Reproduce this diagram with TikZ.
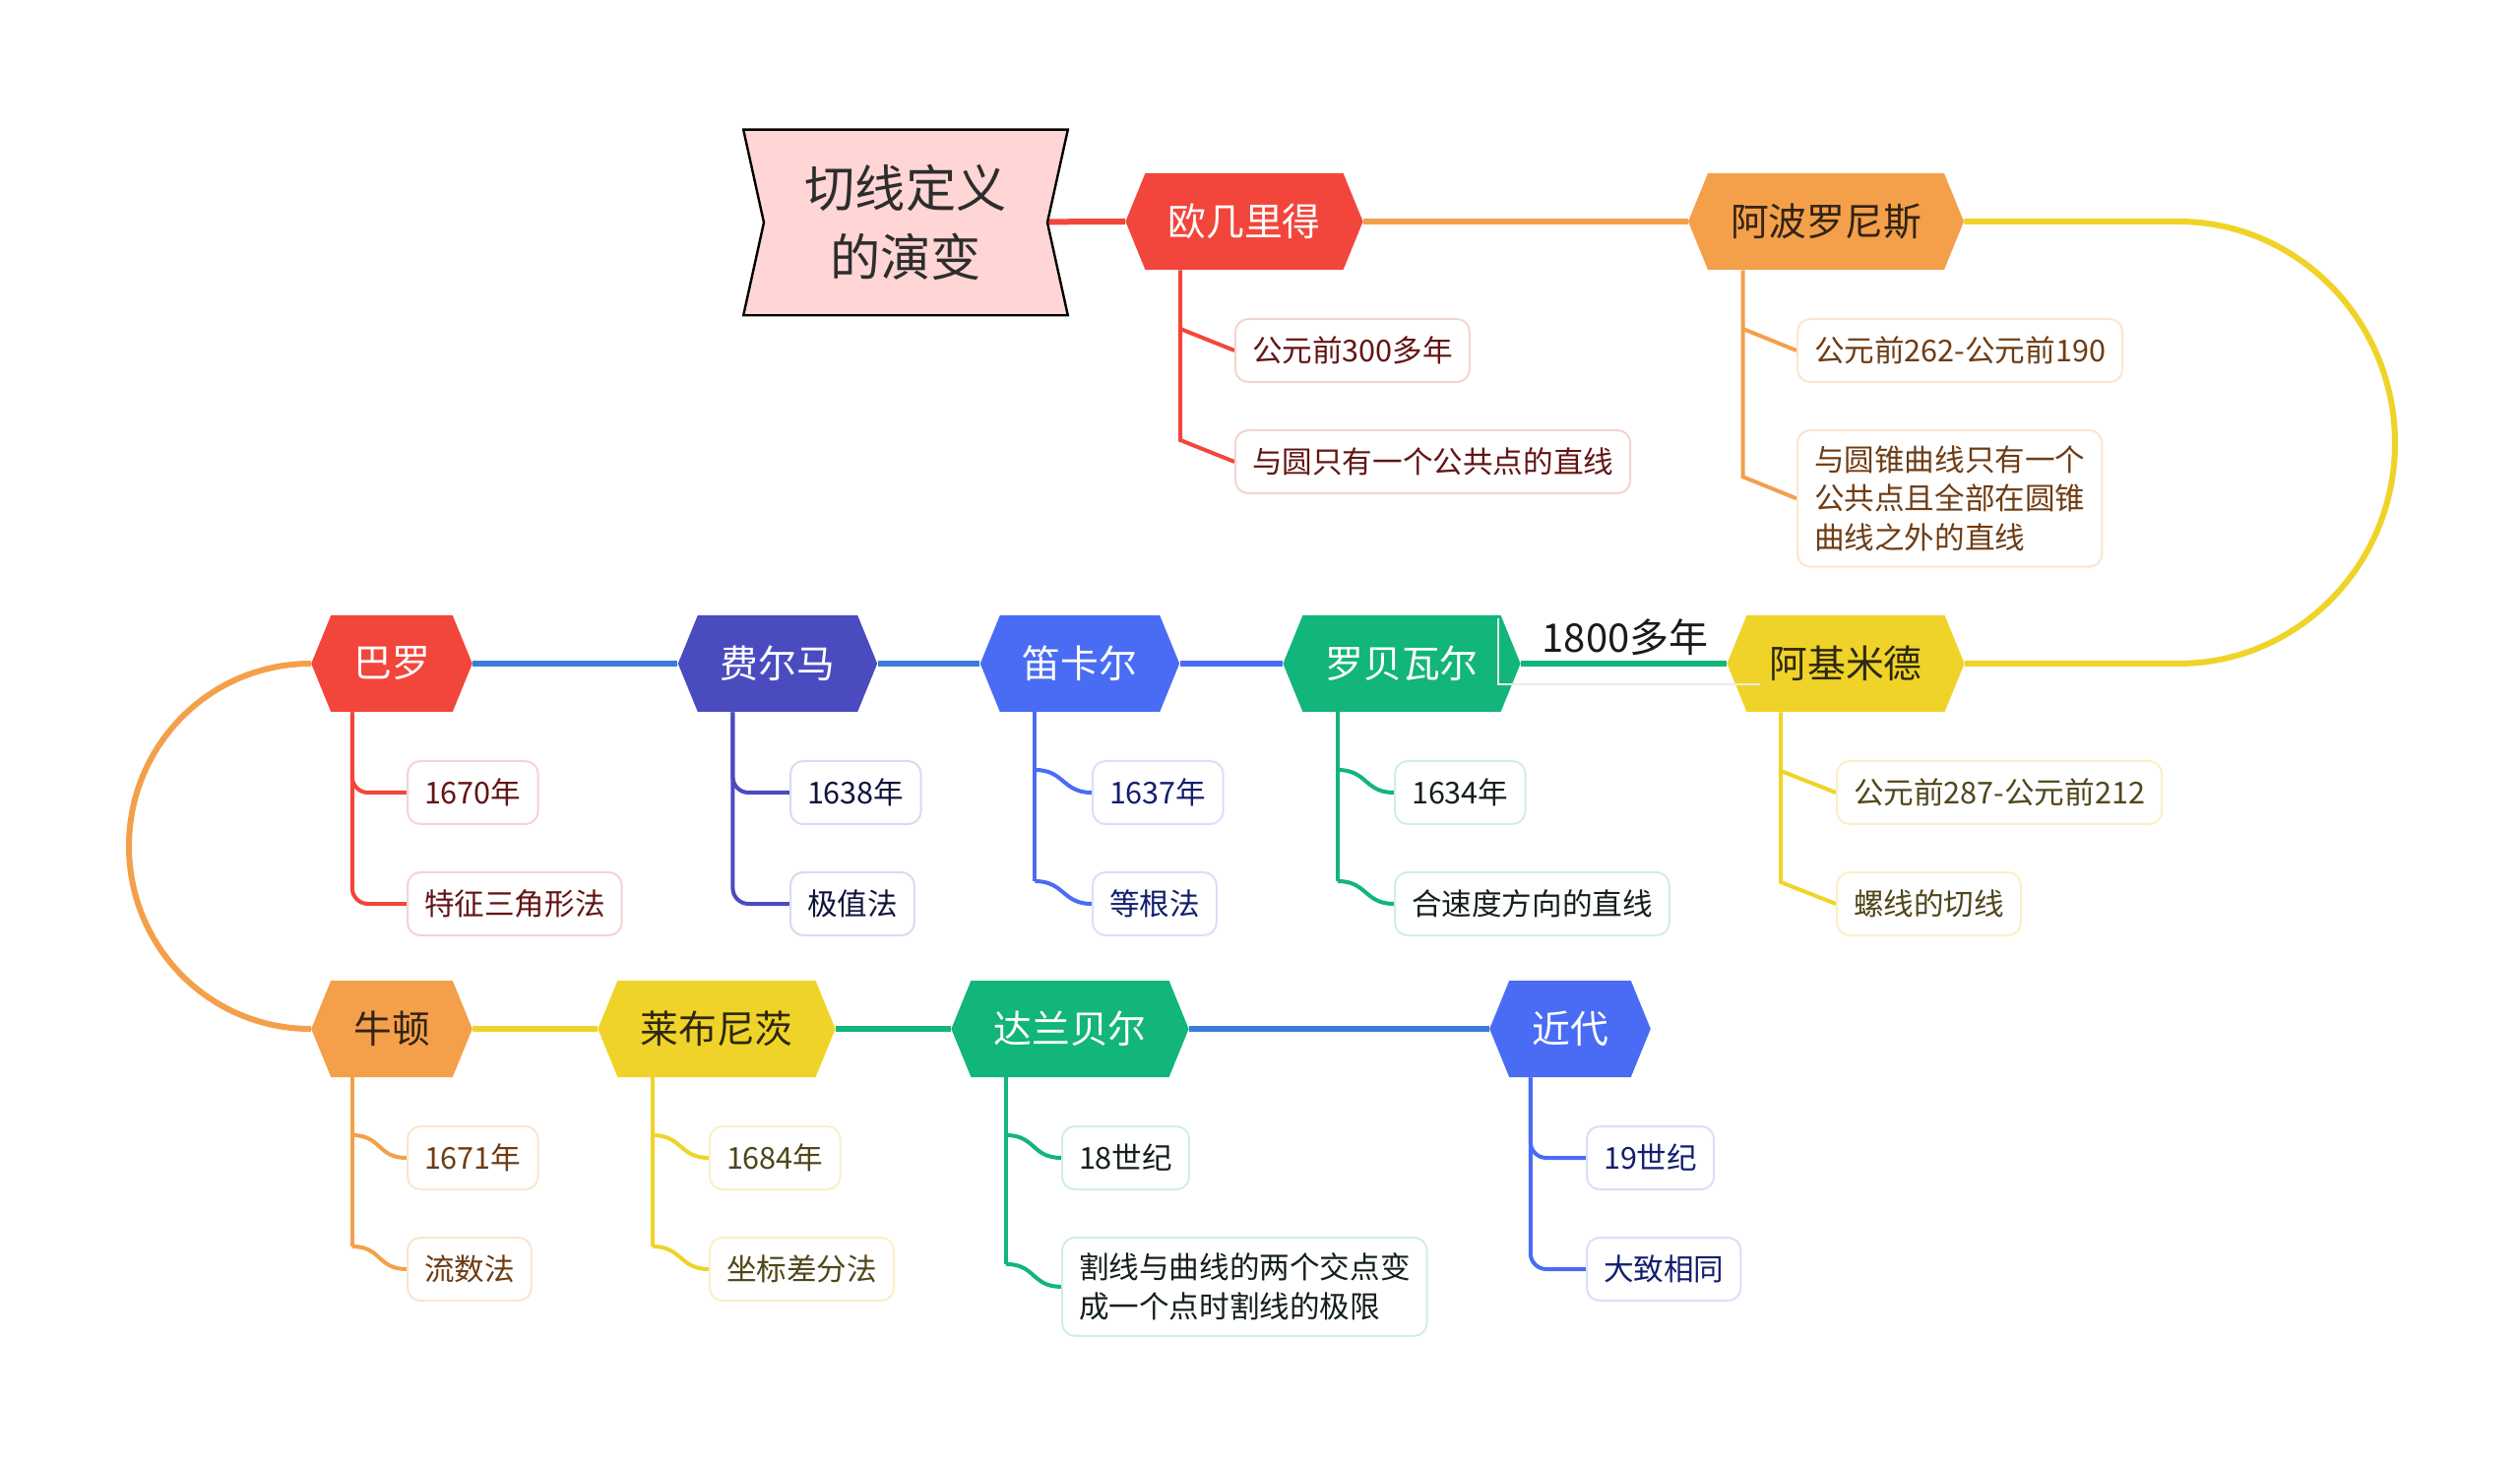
\documentclass[tikz,border=0pt]{standalone}
\usepackage{fontspec}
\setmainfont{Noto Sans CJK SC}
\usetikzlibrary{calc}
\pgfdeclarelayer{bg}
\pgfsetlayers{bg,main}
\definecolor{cred}{HTML}{F2463C}
\definecolor{corange}{HTML}{F4A04A}
\definecolor{cyellow}{HTML}{F0D328}
\definecolor{cgreen}{HTML}{12B57A}
\definecolor{cblue}{HTML}{4A6CF5}
\definecolor{cindigo}{HTML}{4A4BBF}
\definecolor{clink}{HTML}{3A7CDB}
\definecolor{rootfill}{HTML}{FFD5D5}
\definecolor{troot}{HTML}{2D2D2D}
\definecolor{tdorange}{HTML}{322314}
\definecolor{tdyellow}{HTML}{2D280F}
\definecolor{tred}{HTML}{641414}
\definecolor{torange}{HTML}{6E3C14}
\definecolor{tyellow}{HTML}{50461A}
\definecolor{tgreen}{HTML}{142019}
\definecolor{tblue}{HTML}{141E6E}
\definecolor{tindigo}{HTML}{0F143C}
\definecolor{bred}{HTML}{F6D3D0}
\definecolor{borange}{HTML}{FBE5CF}
\definecolor{byellow}{HTML}{FAF0C6}
\definecolor{bgreen}{HTML}{CFEFE3}
\definecolor{bblue}{HTML}{D9DFFB}
\definecolor{bindigo}{HTML}{DADAF0}
\definecolor{tlabel}{HTML}{1A1A1A}
\tikzset{
  hexn/.style={minimum height=49pt, inner xsep=21.5pt, inner ysep=0pt,
    font=\fontsize{19.4pt}{23pt}\selectfont,
    path picture={\fill[#1]
      (path picture bounding box.west)
      -- ([xshift=10pt]path picture bounding box.north west)
      -- ([xshift=-10pt]path picture bounding box.north east)
      -- (path picture bounding box.east)
      -- ([xshift=-10pt]path picture bounding box.south east)
      -- ([xshift=10pt]path picture bounding box.south west) -- cycle;}},
  rootn/.style={minimum width=166pt, minimum height=95.5pt, inner sep=0pt, align=center, text=troot,
    font=\fontsize{25.6pt}{35pt}\selectfont,
    path picture={\draw[fill=rootfill, line width=1.2pt]
      ([shift={(0.6pt,-0.6pt)}]path picture bounding box.north west)
      -- ([shift={(-0.6pt,-0.6pt)}]path picture bounding box.north east)
      -- ([xshift=-11pt]path picture bounding box.east)
      -- ([shift={(-0.6pt,0.6pt)}]path picture bounding box.south east)
      -- ([shift={(0.6pt,0.6pt)}]path picture bounding box.south west)
      -- ([xshift=11pt]path picture bounding box.west) -- cycle;}},
  leaf/.style 2 args={draw=#1, fill=white, line width=1pt, rounded corners=6.5pt, text=#2,
    font=\fontsize{15.3pt}{19.6pt}\selectfont, inner xsep=8.5pt, inner ysep=8pt,
    minimum height=32pt, align=left, anchor=north west},
  mainlink/.style={line width=3pt, draw=#1},
  sublink/.style={line width=2pt, draw=#1},
  faintline/.style={draw=black!8, line width=1pt},
  lbltext/.style={font=\fontsize{20pt}{24pt}\selectfont, text=tlabel, inner sep=0pt},
}
\begin{document}
\begin{tikzpicture}[x=0.5pt,y=-0.5pt]
\useasboundingbox (0,0) rectangle (2560,1491);

% ---------- main nodes ----------
\node[rootn] (root) at (920,226) {切线定义\\的演变};
\node[hexn=cred, text=white] (E) at (1264,225) {欧几里得};
\node[hexn=corange, text=tdorange] (A) at (1855,225) {阿波罗尼斯};
\node[hexn=cyellow, text=tdyellow] (M) at (1875,674) {阿基米德};
\node[hexn=cgreen, text=white] (R) at (1424,674) {罗贝瓦尔};
\node[hexn=cblue, text=white] (D) at (1097,674) {笛卡尔};
\node[hexn=cindigo, text=white] (F) at (790,674) {费尔马};
\node[hexn=cred, text=white] (B) at (398,674) {巴罗};
\node[hexn=corange, text=tdorange] (N) at (398,1045) {牛顿};
\node[hexn=cyellow, text=tdyellow] (L) at (728,1045) {莱布尼茨};
\node[hexn=cgreen, text=white] (Al) at (1087,1045) {达兰贝尔};
\node[hexn=cblue, text=white] (J) at (1595,1045) {近代};

% ---------- leaves ----------
\node[leaf={bred}{tred}] (e1) at (1254,323) {公元前300多年};
\node[leaf={bred}{tred}] (e2) at (1254,436) {与圆只有一个公共点的直线};
\node[leaf={borange}{torange}] (a1) at (1825,323) {公元前262-公元前190};
\node[leaf={borange}{torange}] (a2) at (1825,436) {与圆锥曲线只有一个\\公共点且全部在圆锥\\曲线之外的直线};
\node[leaf={byellow}{tyellow}] (m1) at (1865,772) {公元前287-公元前212};
\node[leaf={byellow}{tyellow}] (m2) at (1865,885) {螺线的切线};
\node[leaf={bgreen}{tgreen}] (r1) at (1416,772) {1634年};
\node[leaf={bgreen}{tgreen}] (r2) at (1416,885) {合速度方向的直线};
\node[leaf={bblue}{tblue}] (d1) at (1109,772) {1637年};
\node[leaf={bblue}{tblue}] (d2) at (1109,885) {等根法};
\node[leaf={bindigo}{tindigo}] (f1) at (802,772) {1638年};
\node[leaf={bindigo}{tindigo}] (f2) at (802,885) {极值法};
\node[leaf={bred}{tred}] (b1) at (413,772) {1670年};
\node[leaf={bred}{tred}] (b2) at (413,885) {特征三角形法};
\node[leaf={borange}{torange}] (n1) at (413,1143) {1671年};
\node[leaf={borange}{torange}] (n2) at (413,1256) {流数法};
\node[leaf={byellow}{tyellow}] (l1) at (720,1143) {1684年};
\node[leaf={byellow}{tyellow}] (l2) at (720,1256) {坐标差分法};
\node[leaf={bgreen}{tgreen}] (t1) at (1078,1143) {18世纪};
\node[leaf={bgreen}{tgreen}] (t2) at (1078,1256) {割线与曲线的两个交点变\\成一个点时割线的极限};
\node[leaf={bblue}{tblue}] (j1) at (1611,1143) {19世纪};
\node[leaf={bblue}{tblue}] (j2) at (1611,1256) {大致相同};

% ---------- label on the green link ----------
\node[lbltext] (lbl) at (1651,647) {1800多年};
\draw[faintline] ($(lbl.center)+(-129,-19)$) -- ($(lbl.center)+(-129,48)$) -- ($(lbl.center)+(137,48)$);

% ---------- connectors (behind) ----------
\begin{pgfonlayer}{bg}
\fill[white] (0,0) rectangle (2560,1491);
\draw[mainlink=cred] (root.center) -- (E.west);
\draw[mainlink=corange] (E.east) -- (A.west);
\draw[mainlink=cyellow] (A.east) -- (2213,225) .. controls (2334,225) and (2433,326) .. (2433,450)
   .. controls (2433,574) and (2334,674) .. (2213,674) -- (M.east);
\draw[mainlink=cgreen] (M.west) -- (R.east);
\draw[mainlink=cblue] (R.west) -- (D.east);
\draw[mainlink=clink] (D.west) -- (F.east);
\draw[mainlink=clink] (F.west) -- (B.east);
\draw[mainlink=corange] (B.west) .. controls (213,674) and (131,757) .. (131,859.5)
   .. controls (131,962) and (213,1045) .. (N.west);
\draw[mainlink=cyellow] (N.east) -- (L.west);
\draw[mainlink=cgreen] (L.east) -- (Al.west);
\draw[mainlink=clink] (Al.east) -- (J.west);

% trunks
\coordinate (Et) at ($(E.south west)+(56,0)$);
\coordinate (At) at ($(A.south west)+(56,0)$);
\coordinate (Mt) at ($(M.south west)+(55,0)$);
\coordinate (Rt) at ($(R.south west)+(56,0)$);
\coordinate (Dt) at ($(D.south west)+(56,0)$);
\coordinate (Ft) at ($(F.south west)+(56,0)$);
\coordinate (Bt) at ($(B.south west)+(42,0)$);
\coordinate (Nt) at ($(N.south west)+(42,0)$);
\coordinate (Lt) at ($(L.south west)+(56,0)$);
\coordinate (Alt) at ($(Al.south west)+(56,0)$);
\coordinate (Jt) at ($(J.south west)+(42,0)$);

% diagonal style
\draw[sublink=cred] (Et) -- ($(Et |- e2.west)+(0,-22)$) -- (e2.west);
\draw[sublink=cred] ($(Et |- e1.west)+(0,-22)$) -- (e1.west);
\draw[sublink=corange] (At) -- ($(At |- a2.west)+(0,-22)$) -- (a2.west);
\draw[sublink=corange] ($(At |- a1.west)+(0,-22)$) -- (a1.west);
\draw[sublink=cyellow] (Mt) -- ($(Mt |- m2.west)+(0,-22)$) -- (m2.west);
\draw[sublink=cyellow] ($(Mt |- m1.west)+(0,-22)$) -- (m1.west);

% rounded elbow style
\draw[sublink=cred, rounded corners=8pt] (Bt) |- (b2.west);
\draw[sublink=cred, rounded corners=8pt] (Bt) |- (b1.west);
\draw[sublink=cindigo, rounded corners=8pt] (Ft) |- (f2.west);
\draw[sublink=cindigo, rounded corners=8pt] (Ft) |- (f1.west);
\draw[sublink=cblue, rounded corners=8pt] (Jt) |- (j2.west);
\draw[sublink=cblue, rounded corners=8pt] (Jt) |- (j1.west);

% S-curve style
\draw[sublink=cblue] (Dt) -- ($(Dt |- d2.west)+(0,-23)$);
\draw[sublink=cblue] ($(Dt |- d1.west)+(0,-23)$) .. controls +(30,0) and +(-30,0) .. (d1.west);
\draw[sublink=cblue] ($(Dt |- d2.west)+(0,-23)$) .. controls +(30,0) and +(-30,0) .. (d2.west);
\draw[sublink=cgreen] (Rt) -- ($(Rt |- r2.west)+(0,-23)$);
\draw[sublink=cgreen] ($(Rt |- r1.west)+(0,-23)$) .. controls +(30,0) and +(-30,0) .. (r1.west);
\draw[sublink=cgreen] ($(Rt |- r2.west)+(0,-23)$) .. controls +(30,0) and +(-30,0) .. (r2.west);
\draw[sublink=corange] (Nt) -- ($(Nt |- n2.west)+(0,-23)$);
\draw[sublink=corange] ($(Nt |- n1.west)+(0,-23)$) .. controls +(30,0) and +(-30,0) .. (n1.west);
\draw[sublink=corange] ($(Nt |- n2.west)+(0,-23)$) .. controls +(30,0) and +(-30,0) .. (n2.west);
\draw[sublink=cyellow] (Lt) -- ($(Lt |- l2.west)+(0,-23)$);
\draw[sublink=cyellow] ($(Lt |- l1.west)+(0,-23)$) .. controls +(30,0) and +(-30,0) .. (l1.west);
\draw[sublink=cyellow] ($(Lt |- l2.west)+(0,-23)$) .. controls +(30,0) and +(-30,0) .. (l2.west);
\draw[sublink=cgreen] (Alt) -- ($(Alt |- t2.west)+(0,-23)$);
\draw[sublink=cgreen] ($(Alt |- t1.west)+(0,-23)$) .. controls +(30,0) and +(-30,0) .. (t1.west);
\draw[sublink=cgreen] ($(Alt |- t2.west)+(0,-23)$) .. controls +(30,0) and +(-30,0) .. (t2.west);
\end{pgfonlayer}
\end{tikzpicture}
\end{document}
